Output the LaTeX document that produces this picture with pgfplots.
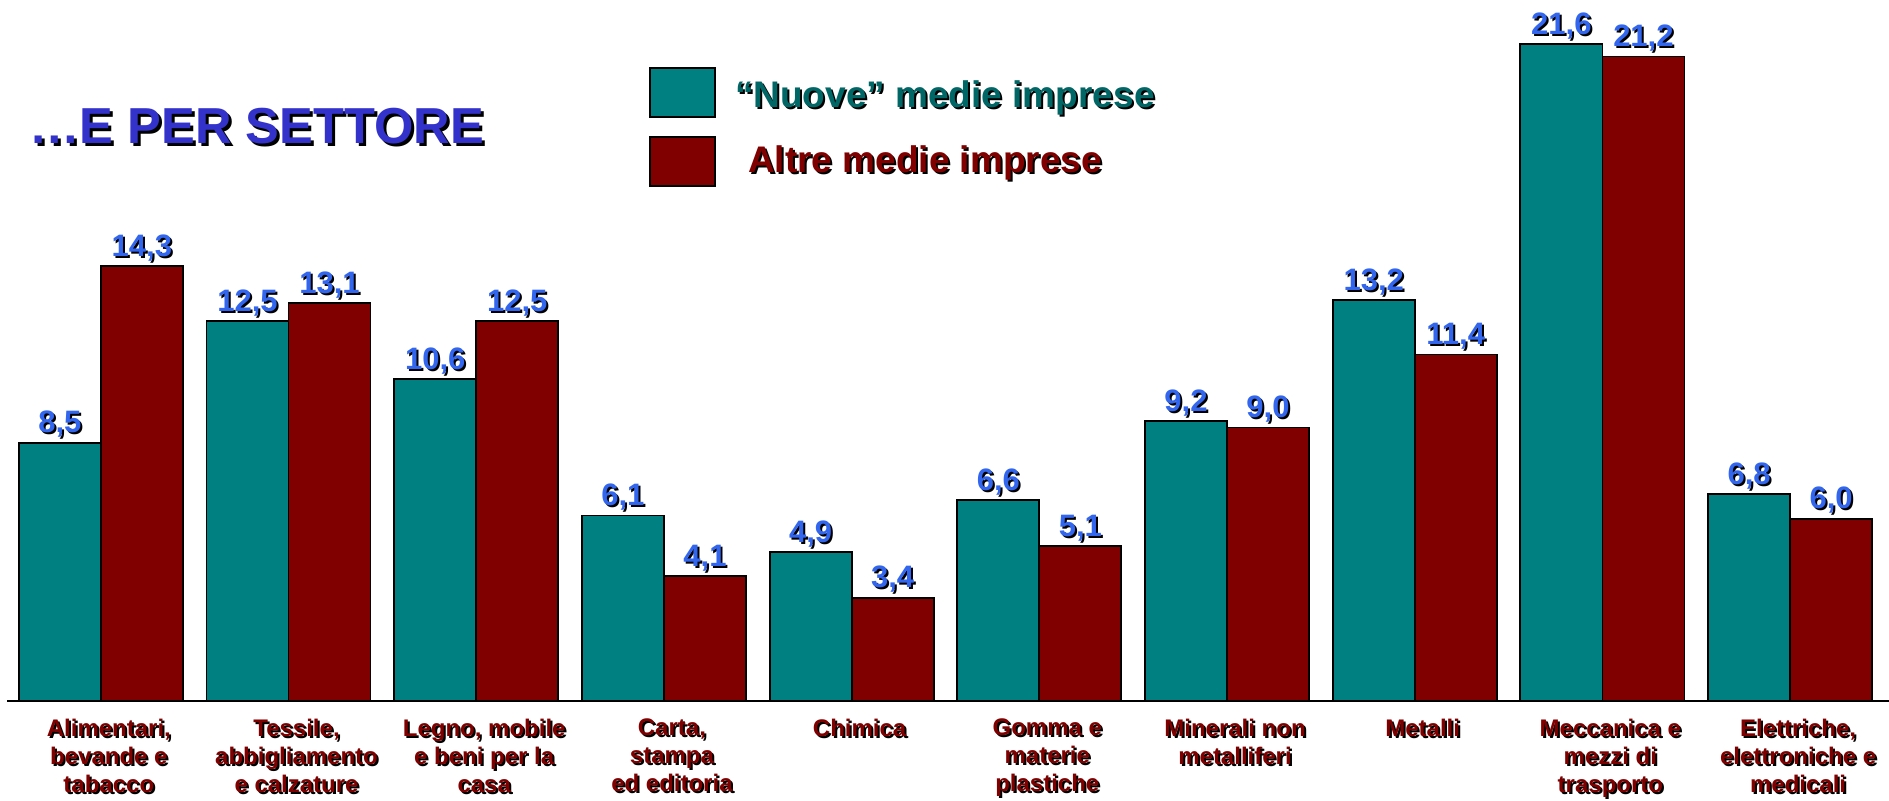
\documentclass[border=0pt]{standalone}
\usepackage{pgfplots}
\pgfplotsset{compat=1.18}
\usepackage{fontspec}
\setmainfont{Liberation Sans}
\definecolor{teal1}{RGB}{0,128,128}
\definecolor{red1}{RGB}{128,0,0}
\definecolor{lblue}{RGB}{51,102,238}
\definecolor{tblue}{RGB}{51,51,204}
\definecolor{tealtxt}{RGB}{0,102,102}
\newcommand{\sh}[3][1pt]{\leavevmode\rlap{\kern#1\raisebox{-#1}{\color{black}#3}}{\color{#2}#3}}
\begin{document}
\begin{tikzpicture}
\useasboundingbox (0,0) rectangle (944.5pt,400pt);
\begin{axis}[
 at={(3.5pt,49.5pt)}, anchor=south west,
 width=941pt, height=350.5pt, scale only axis,
 xmin=-0.5, xmax=9.527, ymin=0, ymax=23.06,
 clip=false,
 axis x line=bottom, axis y line=none,
 x axis line style={-, line width=1pt, black},
 xtick={0,...,9}, major tick length=0pt, ytick=\empty,
 xticklabels={
  {\sh{red1}{Alimentari,}\\\sh{red1}{bevande e}\\\sh{red1}{tabacco}},
  {\sh{red1}{Tessile,}\\\sh{red1}{abbigliamento}\\\sh{red1}{e calzature}},
  {\sh{red1}{Legno, mobile}\\\sh{red1}{e beni per la}\\\sh{red1}{casa}},
  {\sh{red1}{Carta,}\\\sh{red1}{stampa}\\\sh{red1}{ed editoria}},
  {\sh{red1}{Chimica}},
  {\sh{red1}{Gomma e}\\\sh{red1}{materie}\\\sh{red1}{plastiche}},
  {\sh{red1}{Minerali non}\\\sh{red1}{metalliferi}},
  {\sh{red1}{Metalli}},
  {\sh{red1}{Meccanica e}\\\sh{red1}{mezzi di}\\\sh{red1}{trasporto}},
  {\sh{red1}{Elettriche,}\\\sh{red1}{elettroniche e}\\\sh{red1}{medicali}}},
 xticklabel style={align=center, anchor=north, font=\fontsize{12}{13.9}\selectfont\bfseries, yshift=-5.5pt, xshift=4pt},
 ybar=0pt, bar width=0.437,
 /pgf/number format/fixed, /pgf/number format/fixed zerofill,
 /pgf/number format/precision=1, /pgf/number format/use comma,
 /pgf/number format/assume math mode=true,
 nodes near coords={\sh{lblue}{\pgfmathprintnumber{\pgfplotspointmeta}}},
 every node near coord/.append style={font=\fontsize{15.5}{18}\selectfont\bfseries, inner sep=1pt, anchor=south},
 legend style={at={(0.3411,0.9044)}, anchor=north west, draw=none, fill=none, inner sep=0pt,
   font=\fontsize{18.5}{22}\selectfont\bfseries, row sep=9pt, column sep=7.5pt},
 legend cell align=left,
]
\addplot[fill=teal1, draw=black, line width=0.9pt, bar shift=-0.2185,
  legend image code/.code={\draw[fill=teal1, draw=black, line width=0.9pt] (0pt,-12.25pt) rectangle (32.5pt,12.25pt);}]
  coordinates {(0,8.5) (1,12.5) (2,10.6) (3,6.1) (4,4.9) (5,6.6) (6,9.2) (7,13.2) (8,21.6) (9,6.8)};
\addlegendentry{\raisebox{-2.5pt}{\sh{tealtxt}{“Nuove” medie imprese}}}
\addplot[fill=red1, draw=black, line width=0.9pt, bar shift=0.2185,
  legend image code/.code={\draw[fill=red1, draw=black, line width=0.9pt] (0pt,-12.25pt) rectangle (32.5pt,12.25pt);}]
  coordinates {(0,14.3) (1,13.1) (2,12.5) (3,4.1) (4,3.4) (5,5.1) (6,9.0) (7,11.4) (8,21.2) (9,6.0)};
\addlegendentry{\hspace{6.5pt}\raisebox{1pt}{\sh{red1}{Altre medie imprese}}}
\end{axis}
\node[anchor=west, font=\fontsize{25.3}{30}\selectfont\bfseries, inner sep=0pt] at (14.5pt,336pt) {\sh[1.5pt]{tblue}{…E PER SETTORE}};
\end{tikzpicture}
\end{document}
